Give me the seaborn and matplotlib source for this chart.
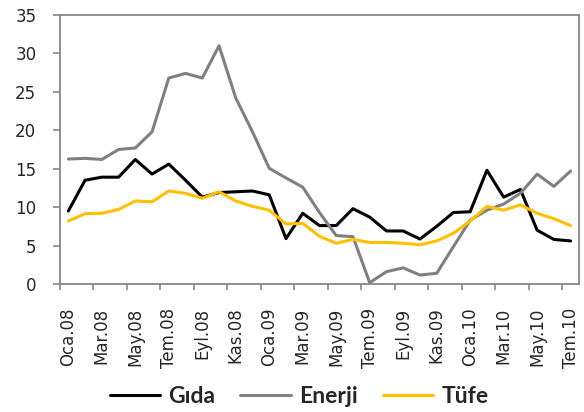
import matplotlib
matplotlib.use("Agg")
import matplotlib.pyplot as plt
import seaborn as sns
import numpy as np
import pandas as pd

months = ['Oca', 'Şub', 'Mar', 'Nis', 'May', 'Haz', 'Tem', 'Ağu', 'Eyl', 'Eki', 'Kas', 'Ara']
periods = ['%s.%s' % (m, y) for y in ['08', '09', '10'] for m in months][:31]

gida = [9.5, 13.5, 13.9, 13.9, 16.2, 14.3, 15.6, 13.5, 11.3, 11.9, 12.0, 12.1,
        11.6, 5.9, 9.2, 7.6, 7.6, 9.8, 8.7, 6.9, 6.9, 5.85, 7.5, 9.3,
        9.4, 14.8, 11.3, 12.3, 7.0, 5.8, 5.6]
enerji = [16.26, 16.35, 16.2, 17.5, 17.7, 19.8, 26.8, 27.4, 26.8, 31.0, 24.2, 19.8,
          15.05, 13.8, 12.6, 9.3, 6.3, 6.16, 0.17, 1.6, 2.1, 1.17, 1.39, 4.86,
          8.3, 9.6, 10.4, 11.8, 14.3, 12.7, 14.7]
tufe = [8.2, 9.15, 9.2, 9.7, 10.8, 10.7, 12.1, 11.8, 11.15, 12.0, 10.8, 10.1,
        9.6, 7.8, 7.9, 6.2, 5.3, 5.8, 5.4, 5.4, 5.3, 5.1, 5.6, 6.6,
        8.2, 10.1, 9.6, 10.3, 9.2, 8.5, 7.6]

series = ['Gıda', 'Enerji', 'Tüfe']
colors = ['#000000', '#808080', '#FFC000']

# long format for seaborn
df = pd.DataFrame({
    'idx': list(range(len(periods))) * 3,
    'value': gida + enerji + tufe,
    'seri': [s for s in series for _ in periods],
})

sns.set_style('white')
plt.rcParams['font.family'] = ['DejaVu Sans']

fig = plt.figure(figsize=(5.84, 4.12), dpi=100)
ax = fig.add_axes([0.1027, 0.3107, 0.8887, 0.6529])
sns.lineplot(data=df, x='idx', y='value', hue='seri', palette=colors,
             hue_order=series, linewidth=2.2, ax=ax)

ax.set_xlim(-0.5, len(periods) - 0.5)
ax.set_ylim(0, 35)
ax.set_yticks(np.arange(0, 36, 5))
ax.set_yticklabels([str(v) for v in range(0, 36, 5)], fontsize=12)
ax.set_xlabel('')
ax.set_ylabel('')

# category boundaries as ticks, labels centered on every second month
ax.set_xticks(np.arange(-0.5, len(periods), 2))
ax.set_xticklabels([])
ax.set_xticks(np.arange(0, len(periods), 2), minor=True)
ax.set_xticklabels(periods[::2], minor=True, rotation=90, fontsize=12)
ax.tick_params(axis='x', which='minor', length=0, pad=17)
ax.tick_params(axis='x', which='major', length=4, width=1.2, color='#868686', direction='out')
ax.tick_params(axis='y', length=5, width=1.2, color='#868686', direction='out', pad=12)
ax.tick_params(bottom=True, left=True)

for sp in ax.spines.values():
    sp.set_color('#868686')
    sp.set_linewidth(1.3)

ax.legend_.remove()
handles, labels = ax.get_legend_handles_labels()
fig.legend(handles, labels, loc='center', bbox_to_anchor=(0.512, 0.037), ncol=3,
           frameon=False, prop={'family': 'Lato', 'weight': 'bold', 'size': 16.5},
           handlelength=2.2, columnspacing=1.1, handletextpad=0.35,
           borderpad=0, borderaxespad=0)

fig.savefig('out.png', dpi=100)
